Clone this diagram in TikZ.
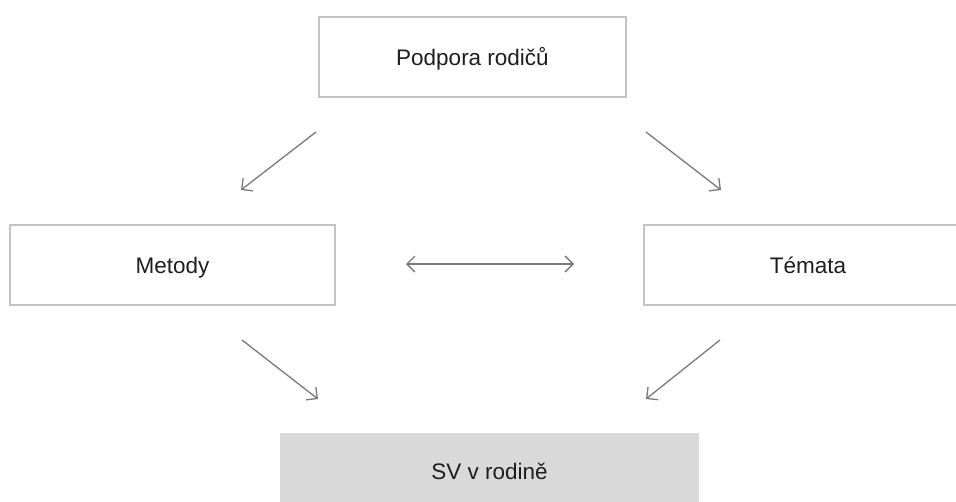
\documentclass[tikz,border=0pt]{standalone}
\usepackage{fontspec}
\setmainfont{Liberation Sans}
\usetikzlibrary{arrows.meta}
\definecolor{boxline}{HTML}{C4C4C4}
\definecolor{arrowgray}{HTML}{7A7A7A}
\definecolor{svfill}{HTML}{D9D9DA}
\definecolor{txt}{HTML}{1E1E1E}
\tikzset{
  txtstyle/.style={text=txt, font=\fontsize{22.5}{27}\selectfont,
    text height=18pt, text depth=2pt},
  stepbox/.style={draw=boxline, line width=1.6pt, fill=white, rectangle,
    minimum height=80pt, txtstyle},
  grybox/.style={fill=svfill, rectangle, minimum height=76pt, txtstyle},
  conn/.style={draw=arrowgray, line width=1.3pt,
    -{Straight Barb[length=8pt,width=16pt,line width=1.3pt]}},
  biconn/.style={draw=arrowgray, line width=1.3pt,
    {Straight Barb[length=8pt,width=16pt,line width=1.3pt]}-{Straight Barb[length=8pt,width=16pt,line width=1.3pt]}}
}
\begin{document}
\begin{tikzpicture}[x=1pt,y=-1pt]
\useasboundingbox[fill=white] (0,0) rectangle (956,501);
\node[stepbox, minimum width=307pt] (top) at (472.5,57) {Podpora rodičů};
\node[stepbox, minimum width=325pt] (met) at (172.5,265) {Metody};
\node[stepbox, minimum width=328pt] (tem) at (808,265) {Témata};
\node[grybox, minimum width=419pt] (sv) at (489.5,471) {SV v rodině};
% arrow end points
\coordinate (a1s) at (316,132);
\coordinate (a1e) at (241,190);
\coordinate (a2s) at (646,132);
\coordinate (a2e) at (721,190);
\coordinate (a3s) at (242,340);
\coordinate (a3e) at (318,399);
\coordinate (a4s) at (720,340);
\coordinate (a4e) at (646,399);
\coordinate (b1) at (406,264);
\coordinate (b2) at (574,264);
\draw[conn] (a1s) -- (a1e);
\draw[conn] (a2s) -- (a2e);
\draw[conn] (a3s) -- (a3e);
\draw[conn] (a4s) -- (a4e);
\draw[biconn] (b1) -- (b2);
\end{tikzpicture}
\end{document}
